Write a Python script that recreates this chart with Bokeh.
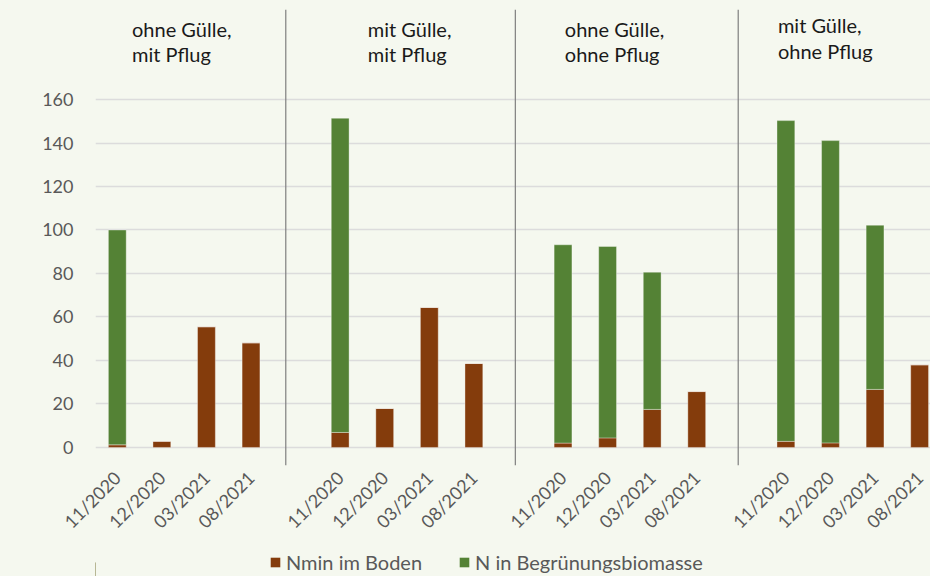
import math
from bokeh.plotting import figure
from bokeh.layouts import column
from bokeh.models import (ColumnDataSource, Range1d, FixedTicker, Label, Span,
                          Legend, LegendItem)
from bokeh.core.properties import value
from bokeh.embed import file_html
from bokeh.resources import INLINE

# ---- data ----
categories = ["11/2020", "12/2020", "03/2021", "08/2021"]
group_line1 = ["ohne Gülle,", "mit Gülle,", "ohne Gülle,", "mit Gülle,"]
group_line2 = ["mit Pflug", "mit Pflug", "ohne Pflug", "ohne Pflug"]
nmin = [1.2, 2.8, 55.5, 48.1,
        6.9, 17.9, 64.4, 38.6,
        2.0, 4.4, 17.5, 25.7,
        2.8, 2.1, 26.7, 38.0]
biomasse = [98.8, 0, 0, 0,
            144.5, 0, 0, 0,
            91.2, 88.0, 63.1, 0,
            147.5, 139.0, 75.5, 0]
y_ticks = [0, 20, 40, 60, 80, 100, 120, 140, 160]
series_names = ["Nmin im Boden", "N in Begrünungsbiomasse"]

# ---- style ----
BROWN = "#843c0c"
GREEN = "#548235"
BG = "#f5f8ef"
FONT = "Lato"
COLORS = [BROWN, GREEN]

slots = []
labels = []
for g in range(4):
    for i, c in enumerate(categories):
        slots.append(g * 5 + i)
        labels.append(c)

source = ColumnDataSource(dict(x=slots, nmin=nmin, bio=biomasse))

p = figure(width=930, height=548, output_backend="svg", toolbar_location=None,
           x_range=Range1d(-0.489, 18.244), y_range=Range1d(-8.3, 201.4),
           min_border_left=95, min_border_right=0, min_border_top=9,
           min_border_bottom=83)
p.background_fill_color = BG
p.border_fill_color = BG
p.outline_line_color = None

p.vbar_stack(["nmin", "bio"], x="x", width=0.4, color=COLORS,
             line_color="white", line_alpha=0.35, line_width=1,
             source=source)

# group separators (between groups)
separator_x = [3.78, 8.93, 13.93]
for sx in separator_x:
    p.add_layout(Span(location=sx, dimension="height", line_color="#7f7f7f", line_width=1.2))

# axes
p.xaxis.ticker = FixedTicker(ticks=slots)
p.xaxis.major_label_overrides = {s: l for s, l in zip(slots, labels)}
p.xaxis.major_label_orientation = math.pi / 4
p.xaxis.axis_line_color = None
p.xaxis.major_tick_line_color = None
p.xaxis.minor_tick_line_color = None
p.xaxis.major_label_text_font = FONT
p.xaxis.major_label_text_font_size = "18px"
p.xaxis.major_label_text_color = "#595959"
p.xaxis.major_label_standoff = 3

p.yaxis.ticker = FixedTicker(ticks=y_ticks)
p.yaxis.axis_line_color = None
p.yaxis.major_tick_line_color = None
p.yaxis.minor_tick_line_color = None
p.yaxis.major_label_text_font = FONT
p.yaxis.major_label_text_font_size = "18px"
p.yaxis.major_label_text_color = "#595959"
p.yaxis.major_label_standoff = 16

p.xgrid.grid_line_color = None
p.ygrid.grid_line_color = "#dcdcdc"
p.ygrid.grid_line_width = 1.5

# y axis title
p.add_layout(Label(x=-75, y=86, x_units="screen", y_units="data", text="[kg/ha]",
                   angle=math.pi / 2, text_align="center", text_baseline="middle",
                   text_font=FONT, text_font_size="18px", text_color="#595959"))

# group titles
title_x = [0.33, 5.62, 10.04, 14.82]
title_y1 = [192.6, 192.6, 192.6, 194.3]
title_y2 = [180.8, 180.8, 180.8, 182.5]
tsrc = ColumnDataSource(dict(x=title_x + title_x, y=title_y1 + title_y2,
                             t=group_line1 + group_line2))
p.text(x="x", y="y", text="t", source=tsrc, text_font=value(FONT),
       text_font_size="20px", text_color="#1a1a1a", text_align="left",
       text_baseline="alphabetic")

# legend strip underneath the chart
lf = figure(width=930, height=28, output_backend="svg", toolbar_location=None,
            x_range=Range1d(0, 1), y_range=Range1d(0, 1),
            x_axis_type=None, y_axis_type=None,
            min_border_left=95, min_border_right=0,
            min_border_top=0, min_border_bottom=0,
            styles={"background-color": BG})
lf.background_fill_color = BG
lf.border_fill_color = BG
lf.outline_line_color = None
lf.xgrid.visible = False
lf.ygrid.visible = False
# swatch renderers (their single bar lies outside the strip's visible range)
legend_renderers = [lf.vbar(x=[-5], top=[0.5], width=0.1, color=c,
                            line_color=None) for c in COLORS]
lg = Legend(items=[LegendItem(label=n, renderers=[r]) for n, r in zip(series_names, legend_renderers)],
            orientation="horizontal", location=(174, 2),
            background_fill_alpha=0, border_line_color=None, padding=0, margin=0,
            glyph_width=12, glyph_height=12, label_height=12, label_standoff=5,
            spacing=36, label_text_font=FONT, label_text_font_size="20px",
            label_text_color="#595959")
lf.add_layout(lg)

layout = column(p, lf, spacing=0, styles={"background-color": BG})
open("out.html", "w").write(file_html(layout, INLINE))
